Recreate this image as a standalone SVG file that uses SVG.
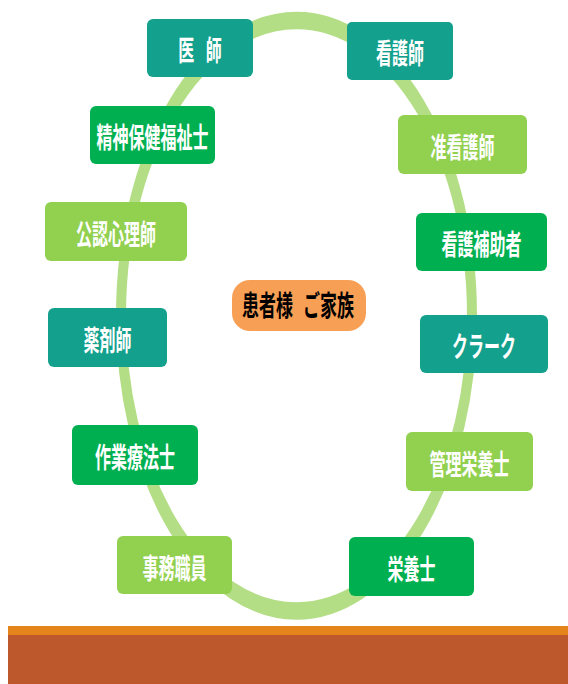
<svg xmlns="http://www.w3.org/2000/svg" width="568" height="684" viewBox="0 0 568 684">
<style>
.box{stroke:none}
.teal{fill:#13a08c}
.green{fill:#00b050}
.lgreen{fill:#92d050}
.center{fill:#f79f55}
.lbl{font-family:"Noto Sans CJK JP","Noto Sans CJK SC",sans-serif;font-weight:700;font-size:16px;fill:#ffffff;text-anchor:middle;dominant-baseline:central}
.dark{fill:#000000;font-size:17px}
.ring{fill:none;stroke:#b4de86;stroke-width:10}
</style>
<rect width="568" height="684" fill="#ffffff"/>
<g id="connectors">
<ellipse class="ring" cx="0" cy="0" rx="175.5" ry="168.7" transform="translate(296.5,315.75) scale(1,1.75)"/>
</g>
<g id="ground">
<rect x="8" y="626" width="560" height="9" fill="#e5841a"/>
<rect x="8" y="635" width="560" height="49" fill="#bc582c"/>
</g>
<g id="n-ishi">
<rect class="box teal" x="147" y="19" width="106" height="58" rx="6"/>
<text class="lbl" word-spacing="8" transform="translate(200,49) scale(1,1.75)">医 師</text>
</g>
<g id="n-kangoshi">
<rect class="box teal" x="347" y="22" width="106" height="58" rx="5"/>
<text class="lbl" transform="translate(400,52) scale(1,1.75)">看護師</text>
</g>
<g id="n-seishin">
<rect class="box green" x="90" y="106" width="125" height="58" rx="6"/>
<text class="lbl" transform="translate(152.5,136) scale(1,1.75)">精神保健福祉士</text>
</g>
<g id="n-junkango">
<rect class="box lgreen" x="398" y="115" width="129" height="59" rx="6"/>
<text class="lbl" transform="translate(462.5,146) scale(1,1.75)">准看護師</text>
</g>
<g id="n-kounin">
<rect class="box lgreen" x="45" y="202" width="142" height="59" rx="6"/>
<text class="lbl" transform="translate(116,233) scale(1,1.75)">公認心理師</text>
</g>
<g id="n-hojo">
<rect class="box green" x="416" y="213" width="131" height="58" rx="6"/>
<text class="lbl" transform="translate(481.5,243) scale(1,1.75)">看護補助者</text>
</g>
<g id="n-kanja">
<rect class="box center" x="232" y="280" width="134" height="51" rx="18"/>
<text class="lbl dark" word-spacing="6" transform="translate(298,304) scale(1,1.7)">患者様 ご家族</text>
</g>
<g id="n-yakuzai">
<rect class="box teal" x="48" y="308" width="119" height="59" rx="6"/>
<text class="lbl" transform="translate(107.5,339) scale(1,1.75)">薬剤師</text>
</g>
<g id="n-clerk">
<rect class="box teal" x="420" y="315" width="128" height="58" rx="6"/>
<text class="lbl" transform="translate(484,345) scale(1,1.75)">クラーク</text>
</g>
<g id="n-sagyou">
<rect class="box green" x="72" y="425" width="126" height="60" rx="6"/>
<text class="lbl" transform="translate(135,456) scale(1,1.75)">作業療法士</text>
</g>
<g id="n-kanri">
<rect class="box lgreen" x="406" y="432" width="127" height="59" rx="6"/>
<text class="lbl" transform="translate(469.5,463) scale(1,1.75)">管理栄養士</text>
</g>
<g id="n-jimu">
<rect class="box lgreen" x="117" y="536" width="115" height="58" rx="6"/>
<text class="lbl" transform="translate(174.5,567) scale(1,1.75)">事務職員</text>
</g>
<g id="n-eiyou">
<rect class="box green" x="349" y="537" width="125" height="59" rx="6"/>
<text class="lbl" transform="translate(411.5,568) scale(1,1.75)">栄養士</text>
</g>
</svg>
